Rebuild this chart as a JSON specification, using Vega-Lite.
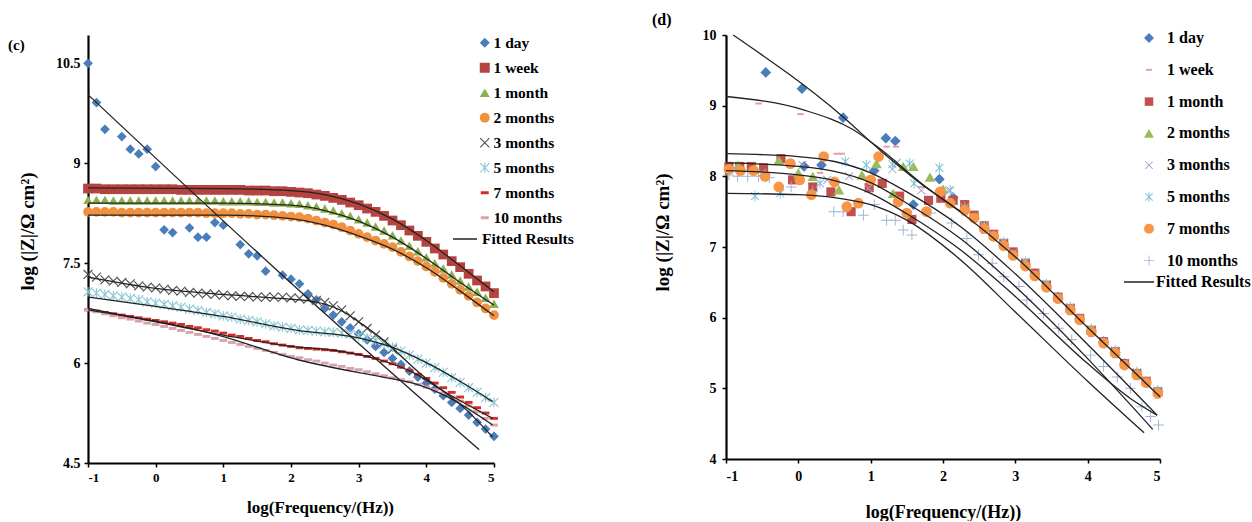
{
"$schema": "https://vega.github.io/schema/vega-lite/v6.json",
"background": "white",
"padding": {"left": 8, "top": 12, "right": 0, "bottom": 0},
"autosize": {"type": "pad"},
"bounds": "flush",
"spacing": 232,
"config": {
 "view": {"stroke": null},
 "font": "Liberation Serif",
 "axis": {"grid": false, "domainColor": "#000", "domainWidth": 2.2, "tickColor": "#000", "tickWidth": 1.5, "tickSize": 4, "labelFont": "Liberation Serif", "labelFontWeight": "bold", "labelFontSize": 13, "labelColor": "#000", "titleFont": "Liberation Serif", "titleFontWeight": "bold", "titleFontSize": 16, "titleColor": "#000", "labelPadding": 4},
 "legend": {"labelFont": "Liberation Serif", "labelFontWeight": "bold", "labelColor": "#000", "labelLimit": 300, "padding": 0}
},
"resolve": {"scale": {"x": "independent", "y": "independent", "color": "independent", "shape": "independent", "stroke": "independent"}, "legend": {"color": "independent", "shape": "independent", "stroke": "independent"}, "axis": {"x": "independent", "y": "independent"}},
"datasets": {
"cp": [
{"s":"1 day","x":-1,"y":10.5},{"s":"1 day","x":-0.875,"y":9.91},{"s":"1 day","x":-0.75,"y":9.51},{"s":"1 day","x":-0.5,"y":9.4},{"s":"1 day","x":-0.375,"y":9.21},{"s":"1 day","x":-0.25,"y":9.14},{"s":"1 day","x":-0.125,"y":9.21},{"s":"1 day","x":0,"y":8.95},{"s":"1 day","x":0.125,"y":8.0},{"s":"1 day","x":0.25,"y":7.96},{"s":"1 day","x":0.5,"y":8.03},{"s":"1 day","x":0.625,"y":7.89},{"s":"1 day","x":0.75,"y":7.89},{"s":"1 day","x":0.875,"y":8.11},{"s":"1 day","x":1,"y":8.07},{"s":"1 day","x":1.25,"y":7.78},{"s":"1 day","x":1.375,"y":7.64},{"s":"1 day","x":1.5,"y":7.61},{"s":"1 day","x":1.625,"y":7.38},{"s":"1 day","x":1.875,"y":7.32},{"s":"1 day","x":2,"y":7.26},{"s":"1 day","x":2.125,"y":7.19},{"s":"1 day","x":2.25,"y":7.04},{"s":"1 day","x":2.375,"y":6.95},{"s":"1 day","x":2.5,"y":6.82},{"s":"1 day","x":2.625,"y":6.72},{"s":"1 day","x":2.75,"y":6.62},{"s":"1 day","x":2.875,"y":6.53},{"s":"1 day","x":3,"y":6.44},{"s":"1 day","x":3.125,"y":6.35},{"s":"1 day","x":3.25,"y":6.25},{"s":"1 day","x":3.375,"y":6.16},{"s":"1 day","x":3.5,"y":6.07},{"s":"1 day","x":3.625,"y":5.98},{"s":"1 day","x":3.75,"y":5.88},{"s":"1 day","x":3.875,"y":5.79},{"s":"1 day","x":4,"y":5.7},{"s":"1 day","x":4.125,"y":5.61},{"s":"1 day","x":4.25,"y":5.51},{"s":"1 day","x":4.375,"y":5.41},{"s":"1 day","x":4.5,"y":5.32},{"s":"1 day","x":4.625,"y":5.22},{"s":"1 day","x":4.75,"y":5.11},{"s":"1 day","x":4.875,"y":5.01},{"s":"1 day","x":5,"y":4.9},
{"s":"1 week","x":-1,"y":8.62},{"s":"1 week","x":-0.875,"y":8.62},{"s":"1 week","x":-0.75,"y":8.61},{"s":"1 week","x":-0.625,"y":8.61},{"s":"1 week","x":-0.5,"y":8.61},{"s":"1 week","x":-0.375,"y":8.61},{"s":"1 week","x":-0.25,"y":8.61},{"s":"1 week","x":-0.125,"y":8.61},{"s":"1 week","x":0,"y":8.61},{"s":"1 week","x":0.125,"y":8.61},{"s":"1 week","x":0.25,"y":8.61},{"s":"1 week","x":0.375,"y":8.6},{"s":"1 week","x":0.5,"y":8.6},{"s":"1 week","x":0.625,"y":8.6},{"s":"1 week","x":0.75,"y":8.6},{"s":"1 week","x":0.875,"y":8.6},{"s":"1 week","x":1,"y":8.6},{"s":"1 week","x":1.125,"y":8.6},{"s":"1 week","x":1.25,"y":8.6},{"s":"1 week","x":1.375,"y":8.59},{"s":"1 week","x":1.5,"y":8.59},{"s":"1 week","x":1.625,"y":8.59},{"s":"1 week","x":1.75,"y":8.58},{"s":"1 week","x":1.875,"y":8.58},{"s":"1 week","x":2,"y":8.57},{"s":"1 week","x":2.125,"y":8.56},{"s":"1 week","x":2.25,"y":8.55},{"s":"1 week","x":2.375,"y":8.53},{"s":"1 week","x":2.5,"y":8.51},{"s":"1 week","x":2.625,"y":8.48},{"s":"1 week","x":2.75,"y":8.45},{"s":"1 week","x":2.875,"y":8.41},{"s":"1 week","x":3,"y":8.37},{"s":"1 week","x":3.125,"y":8.32},{"s":"1 week","x":3.25,"y":8.27},{"s":"1 week","x":3.375,"y":8.21},{"s":"1 week","x":3.5,"y":8.14},{"s":"1 week","x":3.625,"y":8.07},{"s":"1 week","x":3.75,"y":7.99},{"s":"1 week","x":3.875,"y":7.91},{"s":"1 week","x":4,"y":7.82},{"s":"1 week","x":4.125,"y":7.72},{"s":"1 week","x":4.25,"y":7.63},{"s":"1 week","x":4.375,"y":7.53},{"s":"1 week","x":4.5,"y":7.44},{"s":"1 week","x":4.625,"y":7.34},{"s":"1 week","x":4.75,"y":7.24},{"s":"1 week","x":4.875,"y":7.15},{"s":"1 week","x":5,"y":7.05},
{"s":"1 month","x":-1,"y":8.45},{"s":"1 month","x":-0.875,"y":8.45},{"s":"1 month","x":-0.75,"y":8.45},{"s":"1 month","x":-0.625,"y":8.44},{"s":"1 month","x":-0.5,"y":8.44},{"s":"1 month","x":-0.375,"y":8.44},{"s":"1 month","x":-0.25,"y":8.44},{"s":"1 month","x":-0.125,"y":8.44},{"s":"1 month","x":0,"y":8.44},{"s":"1 month","x":0.125,"y":8.44},{"s":"1 month","x":0.25,"y":8.44},{"s":"1 month","x":0.375,"y":8.44},{"s":"1 month","x":0.5,"y":8.44},{"s":"1 month","x":0.625,"y":8.44},{"s":"1 month","x":0.75,"y":8.44},{"s":"1 month","x":0.875,"y":8.44},{"s":"1 month","x":1,"y":8.43},{"s":"1 month","x":1.125,"y":8.43},{"s":"1 month","x":1.25,"y":8.43},{"s":"1 month","x":1.375,"y":8.43},{"s":"1 month","x":1.5,"y":8.42},{"s":"1 month","x":1.625,"y":8.42},{"s":"1 month","x":1.75,"y":8.41},{"s":"1 month","x":1.875,"y":8.41},{"s":"1 month","x":2,"y":8.4},{"s":"1 month","x":2.125,"y":8.39},{"s":"1 month","x":2.25,"y":8.37},{"s":"1 month","x":2.375,"y":8.35},{"s":"1 month","x":2.5,"y":8.32},{"s":"1 month","x":2.625,"y":8.29},{"s":"1 month","x":2.75,"y":8.25},{"s":"1 month","x":2.875,"y":8.21},{"s":"1 month","x":3,"y":8.16},{"s":"1 month","x":3.125,"y":8.11},{"s":"1 month","x":3.25,"y":8.05},{"s":"1 month","x":3.375,"y":7.99},{"s":"1 month","x":3.5,"y":7.92},{"s":"1 month","x":3.625,"y":7.84},{"s":"1 month","x":3.75,"y":7.76},{"s":"1 month","x":3.875,"y":7.68},{"s":"1 month","x":4,"y":7.59},{"s":"1 month","x":4.125,"y":7.5},{"s":"1 month","x":4.25,"y":7.42},{"s":"1 month","x":4.375,"y":7.33},{"s":"1 month","x":4.5,"y":7.24},{"s":"1 month","x":4.625,"y":7.15},{"s":"1 month","x":4.75,"y":7.07},{"s":"1 month","x":4.875,"y":6.98},{"s":"1 month","x":5,"y":6.89},
{"s":"2 months","x":-1,"y":8.27},{"s":"2 months","x":-0.875,"y":8.27},{"s":"2 months","x":-0.75,"y":8.27},{"s":"2 months","x":-0.625,"y":8.27},{"s":"2 months","x":-0.5,"y":8.26},{"s":"2 months","x":-0.375,"y":8.26},{"s":"2 months","x":-0.25,"y":8.26},{"s":"2 months","x":-0.125,"y":8.26},{"s":"2 months","x":0,"y":8.26},{"s":"2 months","x":0.125,"y":8.26},{"s":"2 months","x":0.25,"y":8.26},{"s":"2 months","x":0.375,"y":8.26},{"s":"2 months","x":0.5,"y":8.26},{"s":"2 months","x":0.625,"y":8.26},{"s":"2 months","x":0.75,"y":8.25},{"s":"2 months","x":0.875,"y":8.25},{"s":"2 months","x":1,"y":8.25},{"s":"2 months","x":1.125,"y":8.25},{"s":"2 months","x":1.25,"y":8.24},{"s":"2 months","x":1.375,"y":8.24},{"s":"2 months","x":1.5,"y":8.23},{"s":"2 months","x":1.625,"y":8.23},{"s":"2 months","x":1.75,"y":8.22},{"s":"2 months","x":1.875,"y":8.21},{"s":"2 months","x":2,"y":8.2},{"s":"2 months","x":2.125,"y":8.19},{"s":"2 months","x":2.25,"y":8.17},{"s":"2 months","x":2.375,"y":8.14},{"s":"2 months","x":2.5,"y":8.11},{"s":"2 months","x":2.625,"y":8.08},{"s":"2 months","x":2.75,"y":8.04},{"s":"2 months","x":2.875,"y":7.99},{"s":"2 months","x":3,"y":7.94},{"s":"2 months","x":3.125,"y":7.89},{"s":"2 months","x":3.25,"y":7.84},{"s":"2 months","x":3.375,"y":7.79},{"s":"2 months","x":3.5,"y":7.74},{"s":"2 months","x":3.625,"y":7.67},{"s":"2 months","x":3.75,"y":7.6},{"s":"2 months","x":3.875,"y":7.53},{"s":"2 months","x":4,"y":7.45},{"s":"2 months","x":4.125,"y":7.37},{"s":"2 months","x":4.25,"y":7.28},{"s":"2 months","x":4.375,"y":7.19},{"s":"2 months","x":4.5,"y":7.1},{"s":"2 months","x":4.625,"y":7.01},{"s":"2 months","x":4.75,"y":6.91},{"s":"2 months","x":4.875,"y":6.82},{"s":"2 months","x":5,"y":6.72},
{"s":"3 months","x":-1,"y":7.33},{"s":"3 months","x":-0.875,"y":7.29},{"s":"3 months","x":-0.75,"y":7.25},{"s":"3 months","x":-0.625,"y":7.23},{"s":"3 months","x":-0.5,"y":7.21},{"s":"3 months","x":-0.375,"y":7.19},{"s":"3 months","x":-0.25,"y":7.16},{"s":"3 months","x":-0.125,"y":7.14},{"s":"3 months","x":0,"y":7.13},{"s":"3 months","x":0.125,"y":7.11},{"s":"3 months","x":0.25,"y":7.09},{"s":"3 months","x":0.375,"y":7.08},{"s":"3 months","x":0.5,"y":7.06},{"s":"3 months","x":0.625,"y":7.05},{"s":"3 months","x":0.75,"y":7.04},{"s":"3 months","x":0.875,"y":7.03},{"s":"3 months","x":1,"y":7.02},{"s":"3 months","x":1.125,"y":7.01},{"s":"3 months","x":1.25,"y":7.0},{"s":"3 months","x":1.375,"y":7.0},{"s":"3 months","x":1.5,"y":6.99},{"s":"3 months","x":1.625,"y":6.99},{"s":"3 months","x":1.75,"y":6.99},{"s":"3 months","x":1.875,"y":6.99},{"s":"3 months","x":2,"y":6.98},{"s":"3 months","x":2.125,"y":6.97},{"s":"3 months","x":2.25,"y":6.96},{"s":"3 months","x":2.375,"y":6.94},{"s":"3 months","x":2.5,"y":6.91},{"s":"3 months","x":2.625,"y":6.86},{"s":"3 months","x":2.75,"y":6.8},{"s":"3 months","x":2.875,"y":6.71},{"s":"3 months","x":3,"y":6.62},{"s":"3 months","x":3.125,"y":6.52},{"s":"3 months","x":3.25,"y":6.42},{"s":"3 months","x":3.375,"y":6.32},{"s":"3 months","x":3.5,"y":6.21},
{"s":"5 months","x":-1,"y":7.07},{"s":"5 months","x":-0.875,"y":7.05},{"s":"5 months","x":-0.75,"y":7.03},{"s":"5 months","x":-0.625,"y":7.01},{"s":"5 months","x":-0.5,"y":6.99},{"s":"5 months","x":-0.375,"y":6.97},{"s":"5 months","x":-0.25,"y":6.95},{"s":"5 months","x":-0.125,"y":6.92},{"s":"5 months","x":0,"y":6.9},{"s":"5 months","x":0.125,"y":6.88},{"s":"5 months","x":0.25,"y":6.86},{"s":"5 months","x":0.375,"y":6.84},{"s":"5 months","x":0.5,"y":6.81},{"s":"5 months","x":0.625,"y":6.79},{"s":"5 months","x":0.75,"y":6.76},{"s":"5 months","x":0.875,"y":6.74},{"s":"5 months","x":1,"y":6.71},{"s":"5 months","x":1.125,"y":6.69},{"s":"5 months","x":1.25,"y":6.66},{"s":"5 months","x":1.375,"y":6.64},{"s":"5 months","x":1.5,"y":6.62},{"s":"5 months","x":1.625,"y":6.59},{"s":"5 months","x":1.75,"y":6.56},{"s":"5 months","x":1.875,"y":6.54},{"s":"5 months","x":2,"y":6.52},{"s":"5 months","x":2.125,"y":6.5},{"s":"5 months","x":2.25,"y":6.49},{"s":"5 months","x":2.375,"y":6.48},{"s":"5 months","x":2.5,"y":6.47},{"s":"5 months","x":2.625,"y":6.46},{"s":"5 months","x":2.75,"y":6.45},{"s":"5 months","x":2.875,"y":6.43},{"s":"5 months","x":3,"y":6.41},{"s":"5 months","x":3.125,"y":6.38},{"s":"5 months","x":3.25,"y":6.34},{"s":"5 months","x":3.375,"y":6.29},{"s":"5 months","x":3.5,"y":6.24},{"s":"5 months","x":3.625,"y":6.18},{"s":"5 months","x":3.75,"y":6.12},{"s":"5 months","x":3.875,"y":6.06},{"s":"5 months","x":4,"y":6.0},{"s":"5 months","x":4.125,"y":5.93},{"s":"5 months","x":4.25,"y":5.86},{"s":"5 months","x":4.375,"y":5.78},{"s":"5 months","x":4.5,"y":5.71},{"s":"5 months","x":4.625,"y":5.63},{"s":"5 months","x":4.75,"y":5.56},{"s":"5 months","x":4.875,"y":5.48},{"s":"5 months","x":5,"y":5.41},
{"s":"7 months","x":-1,"y":6.8},{"s":"7 months","x":-0.875,"y":6.78},{"s":"7 months","x":-0.75,"y":6.76},{"s":"7 months","x":-0.625,"y":6.74},{"s":"7 months","x":-0.5,"y":6.72},{"s":"7 months","x":-0.375,"y":6.7},{"s":"7 months","x":-0.25,"y":6.68},{"s":"7 months","x":-0.125,"y":6.66},{"s":"7 months","x":0,"y":6.64},{"s":"7 months","x":0.125,"y":6.62},{"s":"7 months","x":0.25,"y":6.6},{"s":"7 months","x":0.375,"y":6.58},{"s":"7 months","x":0.5,"y":6.55},{"s":"7 months","x":0.625,"y":6.53},{"s":"7 months","x":0.75,"y":6.5},{"s":"7 months","x":0.875,"y":6.48},{"s":"7 months","x":1,"y":6.45},{"s":"7 months","x":1.125,"y":6.42},{"s":"7 months","x":1.25,"y":6.4},{"s":"7 months","x":1.375,"y":6.37},{"s":"7 months","x":1.5,"y":6.34},{"s":"7 months","x":1.625,"y":6.32},{"s":"7 months","x":1.75,"y":6.29},{"s":"7 months","x":1.875,"y":6.27},{"s":"7 months","x":2,"y":6.25},{"s":"7 months","x":2.125,"y":6.23},{"s":"7 months","x":2.25,"y":6.22},{"s":"7 months","x":2.375,"y":6.21},{"s":"7 months","x":2.5,"y":6.2},{"s":"7 months","x":2.625,"y":6.19},{"s":"7 months","x":2.75,"y":6.17},{"s":"7 months","x":2.875,"y":6.15},{"s":"7 months","x":3,"y":6.13},{"s":"7 months","x":3.125,"y":6.1},{"s":"7 months","x":3.25,"y":6.07},{"s":"7 months","x":3.375,"y":6.03},{"s":"7 months","x":3.5,"y":5.99},{"s":"7 months","x":3.625,"y":5.94},{"s":"7 months","x":3.75,"y":5.89},{"s":"7 months","x":3.875,"y":5.83},{"s":"7 months","x":4,"y":5.77},{"s":"7 months","x":4.125,"y":5.7},{"s":"7 months","x":4.25,"y":5.63},{"s":"7 months","x":4.375,"y":5.56},{"s":"7 months","x":4.5,"y":5.49},{"s":"7 months","x":4.625,"y":5.41},{"s":"7 months","x":4.75,"y":5.33},{"s":"7 months","x":4.875,"y":5.25},{"s":"7 months","x":5,"y":5.17},
{"s":"10 months","x":-1,"y":6.8},{"s":"10 months","x":-0.875,"y":6.77},{"s":"10 months","x":-0.75,"y":6.74},{"s":"10 months","x":-0.625,"y":6.71},{"s":"10 months","x":-0.5,"y":6.68},{"s":"10 months","x":-0.375,"y":6.66},{"s":"10 months","x":-0.25,"y":6.63},{"s":"10 months","x":-0.125,"y":6.6},{"s":"10 months","x":0,"y":6.58},{"s":"10 months","x":0.125,"y":6.55},{"s":"10 months","x":0.25,"y":6.52},{"s":"10 months","x":0.375,"y":6.49},{"s":"10 months","x":0.5,"y":6.46},{"s":"10 months","x":0.625,"y":6.43},{"s":"10 months","x":0.75,"y":6.4},{"s":"10 months","x":0.875,"y":6.37},{"s":"10 months","x":1,"y":6.34},{"s":"10 months","x":1.125,"y":6.31},{"s":"10 months","x":1.25,"y":6.28},{"s":"10 months","x":1.375,"y":6.25},{"s":"10 months","x":1.5,"y":6.22},{"s":"10 months","x":1.625,"y":6.19},{"s":"10 months","x":1.75,"y":6.16},{"s":"10 months","x":1.875,"y":6.13},{"s":"10 months","x":2,"y":6.1},{"s":"10 months","x":2.125,"y":6.08},{"s":"10 months","x":2.25,"y":6.05},{"s":"10 months","x":2.375,"y":6.03},{"s":"10 months","x":2.5,"y":6.0},{"s":"10 months","x":2.625,"y":5.97},{"s":"10 months","x":2.75,"y":5.95},{"s":"10 months","x":2.875,"y":5.92},{"s":"10 months","x":3,"y":5.9},{"s":"10 months","x":3.125,"y":5.87},{"s":"10 months","x":3.25,"y":5.84},{"s":"10 months","x":3.375,"y":5.81},{"s":"10 months","x":3.5,"y":5.78},{"s":"10 months","x":3.625,"y":5.75},{"s":"10 months","x":3.75,"y":5.72},{"s":"10 months","x":3.875,"y":5.68},{"s":"10 months","x":4,"y":5.64},{"s":"10 months","x":4.125,"y":5.6},{"s":"10 months","x":4.25,"y":5.55},{"s":"10 months","x":4.375,"y":5.49},{"s":"10 months","x":4.5,"y":5.43},{"s":"10 months","x":4.625,"y":5.36},{"s":"10 months","x":4.75,"y":5.27},{"s":"10 months","x":4.875,"y":5.17},{"s":"10 months","x":5,"y":5.07}
],
"cf": [
{"s":"a","x":-1,"y":10.03},{"s":"a","x":1.84,"y":7.35},{"s":"a","x":4.78,"y":4.7},
{"s":"b","x":-1,"y":8.63},{"s":"b","x":1,"y":8.62},{"s":"b","x":2,"y":8.59},{"s":"b","x":2.5,"y":8.53},{"s":"b","x":3,"y":8.39},{"s":"b","x":3.5,"y":8.16},{"s":"b","x":4,"y":7.84},{"s":"b","x":4.5,"y":7.46},{"s":"b","x":5,"y":7.07},
{"s":"c","x":-1,"y":8.4},{"s":"c","x":1,"y":8.4},{"s":"c","x":2,"y":8.37},{"s":"c","x":2.5,"y":8.29},{"s":"c","x":3,"y":8.13},{"s":"c","x":3.5,"y":7.89},{"s":"c","x":4,"y":7.57},{"s":"c","x":4.5,"y":7.21},{"s":"c","x":5,"y":6.87},
{"s":"d","x":-1,"y":8.22},{"s":"d","x":1,"y":8.22},{"s":"d","x":2,"y":8.17},{"s":"d","x":2.5,"y":8.07},{"s":"d","x":3,"y":7.91},{"s":"d","x":3.5,"y":7.71},{"s":"d","x":4,"y":7.43},{"s":"d","x":4.5,"y":7.08},{"s":"d","x":5,"y":6.71},
{"s":"e","x":-1,"y":7.29},{"s":"e","x":0,"y":7.12},{"s":"e","x":1,"y":7.03},{"s":"e","x":1.84,"y":6.97},{"s":"e","x":2.3,"y":6.93},{"s":"e","x":2.72,"y":6.8},{"s":"e","x":3,"y":6.62},{"s":"e","x":3.31,"y":6.39},{"s":"e","x":3.9,"y":5.85},{"s":"e","x":4.6,"y":5.29},{"s":"e","x":4.98,"y":4.89},
{"s":"f","x":-1,"y":6.99},{"s":"f","x":0,"y":6.85},{"s":"f","x":1,"y":6.7},{"s":"f","x":2.1,"y":6.49},{"s":"f","x":3,"y":6.38},{"s":"f","x":3.46,"y":6.25},{"s":"f","x":4.05,"y":5.98},{"s":"f","x":4.54,"y":5.7},{"s":"f","x":4.98,"y":5.42},
{"s":"g","x":-1,"y":6.82},{"s":"g","x":0,"y":6.62},{"s":"g","x":1,"y":6.42},{"s":"g","x":2.1,"y":6.24},{"s":"g","x":2.57,"y":6.2},{"s":"g","x":3.31,"y":6.05},{"s":"g","x":3.8,"y":5.86},{"s":"g","x":4.3,"y":5.55},{"s":"g","x":4.98,"y":5.17},
{"s":"h","x":-1,"y":6.8},{"s":"h","x":0.92,"y":6.42},{"s":"h","x":2.1,"y":6.05},{"s":"h","x":3.46,"y":5.77},{"s":"h","x":3.8,"y":5.7},{"s":"h","x":4.3,"y":5.5},{"s":"h","x":4.98,"y":5.07}
],
"dp": [
{"s":"1 day","x":-0.45,"y":9.47},{"s":"1 day","x":0.05,"y":9.24},{"s":"1 day","x":0.08,"y":8.14},{"s":"1 day","x":0.32,"y":8.16},{"s":"1 day","x":0.62,"y":8.83},{"s":"1 day","x":1.05,"y":8.08},{"s":"1 day","x":1.21,"y":8.54},{"s":"1 day","x":1.34,"y":8.5},{"s":"1 day","x":1.59,"y":7.6},{"s":"1 day","x":1.95,"y":7.96},{"s":"1 day","x":2.14,"y":7.7},{"s":"1 day","x":2.3,"y":7.53},{"s":"1 day","x":2.43,"y":7.42},{"s":"1 day","x":2.57,"y":7.28},{"s":"1 day","x":2.7,"y":7.16},{"s":"1 day","x":2.84,"y":7.04},{"s":"1 day","x":2.97,"y":6.92},{"s":"1 day","x":3.14,"y":6.76},{"s":"1 day","x":3.27,"y":6.62},{"s":"1 day","x":3.43,"y":6.45},{"s":"1 day","x":3.59,"y":6.29},{"s":"1 day","x":3.76,"y":6.12},{"s":"1 day","x":3.89,"y":5.98},{"s":"1 day","x":4.05,"y":5.82},{"s":"1 day","x":4.22,"y":5.66},{"s":"1 day","x":4.38,"y":5.51},{"s":"1 day","x":4.51,"y":5.35},{"s":"1 day","x":4.68,"y":5.21},{"s":"1 day","x":4.81,"y":5.09},{"s":"1 day","x":4.97,"y":4.95},
{"s":"1 week","x":-0.55,"y":9.03},{"s":"1 week","x":-0.9,"y":8.12},{"s":"1 week","x":0.03,"y":8.88},{"s":"1 week","x":0.3,"y":8.05},{"s":"1 week","x":0.53,"y":8.32},{"s":"1 week","x":0.6,"y":8.32},{"s":"1 week","x":1.22,"y":8.42},{"s":"1 week","x":1.35,"y":8.42},{"s":"1 week","x":1.7,"y":7.85},{"s":"1 week","x":2.0,"y":7.78},{"s":"1 week","x":2.3,"y":7.46},{"s":"1 week","x":2.57,"y":7.2},{"s":"1 week","x":2.84,"y":6.97},{"s":"1 week","x":3.14,"y":6.69},{"s":"1 week","x":3.43,"y":6.38},{"s":"1 week","x":3.76,"y":6.05},{"s":"1 week","x":4.05,"y":5.74},{"s":"1 week","x":4.38,"y":5.44},{"s":"1 week","x":4.68,"y":5.13},{"s":"1 week","x":4.97,"y":4.87},
{"s":"1 month","x":-0.96,"y":8.14},{"s":"1 month","x":-0.81,"y":8.14},{"s":"1 month","x":-0.65,"y":8.14},{"s":"1 month","x":-0.48,"y":8.12},{"s":"1 month","x":-0.24,"y":8.25},{"s":"1 month","x":-0.08,"y":7.95},{"s":"1 month","x":0.2,"y":7.85},{"s":"1 month","x":0.45,"y":7.78},{"s":"1 month","x":0.73,"y":7.5},{"s":"1 month","x":0.98,"y":7.84},{"s":"1 month","x":1.16,"y":7.9},{"s":"1 month","x":1.4,"y":7.72},{"s":"1 month","x":1.57,"y":7.39},{"s":"1 month","x":1.8,"y":7.66},{"s":"1 month","x":1.97,"y":7.69},{"s":"1 month","x":2.14,"y":7.66},{"s":"1 month","x":2.3,"y":7.6},{"s":"1 month","x":2.43,"y":7.45},{"s":"1 month","x":2.57,"y":7.3},{"s":"1 month","x":2.7,"y":7.18},{"s":"1 month","x":2.84,"y":7.05},{"s":"1 month","x":2.97,"y":6.93},{"s":"1 month","x":3.14,"y":6.77},{"s":"1 month","x":3.27,"y":6.63},{"s":"1 month","x":3.43,"y":6.46},{"s":"1 month","x":3.59,"y":6.29},{"s":"1 month","x":3.76,"y":6.13},{"s":"1 month","x":3.89,"y":5.99},{"s":"1 month","x":4.05,"y":5.82},{"s":"1 month","x":4.22,"y":5.66},{"s":"1 month","x":4.38,"y":5.52},{"s":"1 month","x":4.51,"y":5.35},{"s":"1 month","x":4.68,"y":5.21},{"s":"1 month","x":4.81,"y":5.1},{"s":"1 month","x":4.97,"y":4.95},
{"s":"2 months","x":-0.96,"y":8.12},{"s":"2 months","x":-0.83,"y":8.16},{"s":"2 months","x":-0.6,"y":8.12},{"s":"2 months","x":-0.27,"y":8.23},{"s":"2 months","x":0,"y":8.05},{"s":"2 months","x":0.2,"y":8.0},{"s":"2 months","x":0.56,"y":7.81},{"s":"2 months","x":0.88,"y":8.02},{"s":"2 months","x":1.08,"y":8.18},{"s":"2 months","x":1.31,"y":7.76},{"s":"2 months","x":1.45,"y":8.14},{"s":"2 months","x":1.59,"y":8.14},{"s":"2 months","x":1.82,"y":7.99},{"s":"2 months","x":2.0,"y":7.82},{"s":"2 months","x":2.3,"y":7.55},{"s":"2 months","x":2.57,"y":7.29},{"s":"2 months","x":2.84,"y":7.06},{"s":"2 months","x":3.14,"y":6.78},{"s":"2 months","x":3.43,"y":6.47},{"s":"2 months","x":3.76,"y":6.14},{"s":"2 months","x":4.05,"y":5.83},{"s":"2 months","x":4.38,"y":5.53},{"s":"2 months","x":4.68,"y":5.22},{"s":"2 months","x":4.97,"y":4.96},
{"s":"3 months","x":-0.9,"y":8.1},{"s":"3 months","x":-0.5,"y":8.05},{"s":"3 months","x":0.06,"y":8.16},{"s":"3 months","x":0.4,"y":7.95},{"s":"3 months","x":0.7,"y":8.0},{"s":"3 months","x":0.97,"y":7.83},{"s":"3 months","x":1.3,"y":8.1},{"s":"3 months","x":1.36,"y":8.19},{"s":"3 months","x":1.7,"y":7.8},{"s":"3 months","x":2.08,"y":7.8},{"s":"3 months","x":2.43,"y":7.43},{"s":"3 months","x":2.7,"y":7.17},{"s":"3 months","x":2.97,"y":6.92},{"s":"3 months","x":3.27,"y":6.62},{"s":"3 months","x":3.59,"y":6.3},{"s":"3 months","x":3.89,"y":6.0},{"s":"3 months","x":4.22,"y":5.67},{"s":"3 months","x":4.51,"y":5.36},{"s":"3 months","x":4.81,"y":5.11},
{"s":"5 months","x":-0.6,"y":7.72},{"s":"5 months","x":-0.25,"y":7.76},{"s":"5 months","x":0.3,"y":7.9},{"s":"5 months","x":0.65,"y":8.21},{"s":"5 months","x":0.94,"y":8.16},{"s":"5 months","x":1.3,"y":8.17},{"s":"5 months","x":1.54,"y":8.18},{"s":"5 months","x":1.6,"y":7.9},{"s":"5 months","x":1.95,"y":8.12},{"s":"5 months","x":2.1,"y":7.8},{"s":"5 months","x":2.3,"y":7.56},{"s":"5 months","x":2.57,"y":7.3},{"s":"5 months","x":2.84,"y":7.07},{"s":"5 months","x":3.14,"y":6.79},{"s":"5 months","x":3.43,"y":6.48},{"s":"5 months","x":3.76,"y":6.15},{"s":"5 months","x":4.05,"y":5.84},{"s":"5 months","x":4.38,"y":5.54},{"s":"5 months","x":4.68,"y":5.23},{"s":"5 months","x":4.97,"y":4.97},
{"s":"10 months","x":-0.96,"y":8.02},{"s":"10 months","x":-0.84,"y":8.0},{"s":"10 months","x":-0.7,"y":8.0},{"s":"10 months","x":-0.55,"y":8.0},{"s":"10 months","x":-0.4,"y":7.98},{"s":"10 months","x":-0.1,"y":7.85},{"s":"10 months","x":0.2,"y":7.78},{"s":"10 months","x":0.49,"y":7.5},{"s":"10 months","x":0.62,"y":7.5},{"s":"10 months","x":0.9,"y":7.45},{"s":"10 months","x":1.05,"y":7.6},{"s":"10 months","x":1.22,"y":7.38},{"s":"10 months","x":1.34,"y":7.38},{"s":"10 months","x":1.45,"y":7.24},{"s":"10 months","x":1.57,"y":7.17},{"s":"10 months","x":1.83,"y":7.48},{"s":"10 months","x":2.12,"y":7.34},{"s":"10 months","x":2.33,"y":7.12},{"s":"10 months","x":2.49,"y":6.89},{"s":"10 months","x":2.68,"y":6.77},{"s":"10 months","x":2.84,"y":6.58},{"s":"10 months","x":3.05,"y":6.44},{"s":"10 months","x":3.16,"y":6.25},{"s":"10 months","x":3.39,"y":6.06},{"s":"10 months","x":3.6,"y":5.85},{"s":"10 months","x":3.78,"y":5.69},{"s":"10 months","x":4.04,"y":5.47},{"s":"10 months","x":4.22,"y":5.31},{"s":"10 months","x":4.41,"y":5.16},{"s":"10 months","x":4.59,"y":5.0},{"s":"10 months","x":4.75,"y":4.74},{"s":"10 months","x":4.87,"y":4.6},{"s":"10 months","x":4.98,"y":4.48},
{"s":"7 months","x":-0.96,"y":8.1},{"s":"7 months","x":-0.8,"y":8.08},{"s":"7 months","x":-0.62,"y":8.08},{"s":"7 months","x":-0.46,"y":8.0},{"s":"7 months","x":-0.27,"y":7.85},{"s":"7 months","x":-0.11,"y":8.18},{"s":"7 months","x":0.02,"y":7.95},{"s":"7 months","x":0.18,"y":7.74},{"s":"7 months","x":0.35,"y":8.28},{"s":"7 months","x":0.5,"y":7.92},{"s":"7 months","x":0.67,"y":7.57},{"s":"7 months","x":0.83,"y":7.62},{"s":"7 months","x":1.0,"y":7.95},{"s":"7 months","x":1.11,"y":8.28},{"s":"7 months","x":1.38,"y":7.64},{"s":"7 months","x":1.5,"y":7.48},{"s":"7 months","x":1.77,"y":7.5},{"s":"7 months","x":1.96,"y":7.78},{"s":"7 months","x":2.1,"y":7.62},{"s":"7 months","x":2.3,"y":7.52},{"s":"7 months","x":2.43,"y":7.41},{"s":"7 months","x":2.57,"y":7.26},{"s":"7 months","x":2.7,"y":7.15},{"s":"7 months","x":2.84,"y":7.02},{"s":"7 months","x":2.97,"y":6.88},{"s":"7 months","x":3.14,"y":6.73},{"s":"7 months","x":3.27,"y":6.59},{"s":"7 months","x":3.43,"y":6.43},{"s":"7 months","x":3.59,"y":6.27},{"s":"7 months","x":3.76,"y":6.11},{"s":"7 months","x":3.89,"y":5.97},{"s":"7 months","x":4.05,"y":5.8},{"s":"7 months","x":4.22,"y":5.64},{"s":"7 months","x":4.38,"y":5.5},{"s":"7 months","x":4.51,"y":5.33},{"s":"7 months","x":4.68,"y":5.19},{"s":"7 months","x":4.81,"y":5.08},{"s":"7 months","x":4.97,"y":4.93}
],
"df": [
{"s":"a","x":-0.9,"y":10.0},{"s":"a","x":0.62,"y":8.84},{"s":"a","x":1.13,"y":8.37},{"s":"a","x":1.69,"y":7.9},{"s":"a","x":2.24,"y":7.5},{"s":"a","x":3,"y":6.86},{"s":"a","x":4,"y":5.86},{"s":"a","x":5,"y":4.88},
{"s":"b","x":-1,"y":9.13},{"s":"b","x":0.07,"y":8.94},{"s":"b","x":0.76,"y":8.66},{"s":"b","x":1.13,"y":8.39},{"s":"b","x":1.69,"y":7.91},{"s":"b","x":2.24,"y":7.5},
{"s":"c","x":-1,"y":8.32},{"s":"c","x":0,"y":8.28},{"s":"c","x":0.5,"y":8.21},{"s":"c","x":1,"y":8.05},{"s":"c","x":1.5,"y":7.78},{"s":"c","x":2.24,"y":7.29},{"s":"c","x":3,"y":6.62},{"s":"c","x":4,"y":5.62},{"s":"c","x":4.96,"y":4.62},
{"s":"d","x":-1,"y":8.19},{"s":"d","x":0,"y":8.14},{"s":"d","x":0.5,"y":8.07},{"s":"d","x":1,"y":7.91},{"s":"d","x":1.5,"y":7.62},{"s":"d","x":2.24,"y":7.12},{"s":"d","x":3,"y":6.44},{"s":"d","x":4,"y":5.42},{"s":"d","x":4.9,"y":4.42},
{"s":"e","x":-1,"y":8.08},{"s":"e","x":0,"y":8.02},{"s":"e","x":0.5,"y":7.94},{"s":"e","x":1,"y":7.76},{"s":"e","x":1.5,"y":7.47},{"s":"e","x":2.24,"y":6.96},{"s":"e","x":3,"y":6.3},{"s":"e","x":4,"y":5.35},{"s":"e","x":4.6,"y":4.85},{"s":"e","x":4.96,"y":4.62},
{"s":"f","x":-1,"y":7.76},{"s":"f","x":0,"y":7.74},{"s":"f","x":0.5,"y":7.7},{"s":"f","x":1,"y":7.6},{"s":"f","x":1.5,"y":7.38},{"s":"f","x":2.24,"y":6.82},{"s":"f","x":3,"y":6.08},{"s":"f","x":4,"y":5.1},{"s":"f","x":4.78,"y":4.37}
]
},
"hconcat": [
{
 "width": 406, "height": 428,
 "title": {"text": "(c)", "anchor": "start", "frame": "group", "dx": -80, "offset": -18, "fontSize": 15, "fontWeight": "bold", "font": "Liberation Serif", "color": "#000"},
 "encoding": {
  "x": {"field": "x", "type": "quantitative", "scale": {"domain": [-1, 5], "nice": false, "zero": false}, "axis": {"values": [-1,0,1,2,3,4,5], "title": "log(Frequency/(Hz))", "labelExpr": "replace(datum.label,'−','-')", "titlePadding": 15, "titleX": 232, "titleFontSize": 17}},
  "y": {"field": "y", "type": "quantitative", "scale": {"domain": [4.5, 10.925], "nice": false, "zero": false}, "axis": {"values": [4.5,6,7.5,9,10.5], "format": ".1~f", "title": "log (|Z|/Ω cm²)", "titleY": 196, "titlePadding": 18, "titleFontSize": 19, "labelFontSize": 14}}
 },
 "layer": [
  {"data": {"name": "cp"}, "mark": {"type": "point", "filled": true, "size": 95, "opacity": 1},
   "encoding": {
    "color": {"field": "s", "type": "nominal", "scale": {"domain": ["1 day","1 week","1 month","2 months","3 months","5 months","7 months","10 months"], "range": ["#4a7ebb","#b5433f","#8db04e","#ef913f","#555555","#8ccad8","#d42b2b","#d9a3ac"]},
      "legend": {"title": null, "orient": "none", "legendX": 389, "legendY": 0, "labelFontSize": 15.5, "rowPadding": 8, "labelOffset": 1}},
    "shape": {"field": "s", "type": "nominal", "scale": {"domain": ["1 day","1 week","1 month","2 months","3 months","5 months","7 months","10 months"], "range": ["diamond","square","triangle-up","circle","M-1,-0.83L-0.83,-1L1,0.83L0.83,1ZM1,-0.83L-0.83,1L-1,0.83L0.83,-1Z","M-1,-0.83L-0.83,-1L1,0.83L0.83,1ZM1,-0.83L-0.83,1L-1,0.83L0.83,-1ZM-0.12,-1L0.12,-1L0.12,1L-0.12,1Z","M-0.8,-0.3L0.8,-0.3L0.8,0.3L-0.8,0.3Z","M-0.8,-0.3L0.8,-0.3L0.8,0.3L-0.8,0.3Z"]},
      "legend": {"title": null, "orient": "none", "legendX": 389, "legendY": 0, "labelFontSize": 15.5, "rowPadding": 8, "labelOffset": 1}}
   }},
  {"data": {"name": "cf"}, "mark": {"type": "line", "strokeWidth": 1.3, "interpolate": "monotone"},
   "encoding": {
    "detail": {"field": "s"},
    "stroke": {"datum": "Fitted Results", "type": "nominal", "scale": {"range": ["#222222"]}, "legend": {"title": null, "orient": "none", "legendX": 364, "legendY": 191, "symbolType": "stroke", "symbolSize": 576, "symbolStrokeWidth": 1.5, "labelFontSize": 15.5, "labelOffset": 4}}
   }}
 ]
},
{
 "width": 434, "height": 424,
 "title": {"text": "(d)", "anchor": "start", "frame": "group", "dx": -74, "offset": 0, "fontSize": 16, "fontWeight": "bold", "font": "Liberation Serif", "color": "#000"},
 "encoding": {
  "x": {"field": "x", "type": "quantitative", "scale": {"domain": [-1, 5], "nice": false, "zero": false}, "axis": {"values": [-1,0,1,2,3,4,5], "title": "log(Frequency/(Hz))", "labelExpr": "replace(datum.label,'−','-')", "labelFontSize": 14, "titleFontSize": 18, "titlePadding": 20, "labelPadding": 6}},
  "y": {"field": "y", "type": "quantitative", "scale": {"domain": [4, 10], "nice": false, "zero": false}, "axis": {"values": [4,5,6,7,8,9,10], "title": "log (|Z|/Ω cm²)", "titleY": 197, "labelFontSize": 14, "titleFontSize": 19, "titlePadding": 30, "labelPadding": 6}}
 },
 "layer": [
  {"data": {"name": "dp"}, "mark": {"type": "point", "filled": true, "size": 115, "opacity": 1},
   "encoding": {
    "color": {"field": "s", "type": "nominal", "scale": {"domain": ["1 day","1 week","1 month","2 months","3 months","5 months","7 months","10 months"], "range": ["#4a7ebb","#e39aa6","#c0504d","#9bbb59","#a99bc9","#7fc4d8","#f79646","#9db5d9"]},
      "legend": {"title": null, "orient": "none", "legendX": 415, "legendY": -5, "labelFontSize": 16, "rowPadding": 15.8, "labelOffset": 10}},
    "shape": {"field": "s", "type": "nominal", "scale": {"domain": ["1 day","1 week","1 month","2 months","3 months","5 months","7 months","10 months"], "range": ["diamond","M-0.6,-0.18L0.6,-0.18L0.6,0.18L-0.6,0.18Z","M-0.85,-0.85L0.85,-0.85L0.85,0.85L-0.85,0.85Z","triangle-up","M-0.8,-0.68L-0.68,-0.8L0.8,0.68L0.68,0.8ZM0.8,-0.68L-0.68,0.8L-0.8,0.68L0.68,-0.8Z","M-0.8,-0.66L-0.66,-0.8L0.8,0.66L0.66,0.8ZM0.8,-0.66L-0.66,0.8L-0.8,0.66L0.66,-0.8ZM-0.09,-1L0.09,-1L0.09,1L-0.09,1Z","circle","M-1,-0.09L1,-0.09L1,0.09L-1,0.09ZM-0.09,-1L0.09,-1L0.09,1L-0.09,1Z"]},
      "legend": {"title": null, "orient": "none", "legendX": 415, "legendY": -5, "labelFontSize": 16, "rowPadding": 15.8, "labelOffset": 10}}
   }},
  {"data": {"name": "df"}, "mark": {"type": "line", "strokeWidth": 1.3, "interpolate": "monotone"},
   "encoding": {
    "detail": {"field": "s"},
    "stroke": {"datum": "Fitted Results", "type": "nominal", "scale": {"range": ["#222222"]}, "legend": {"title": null, "orient": "none", "legendX": 397, "legendY": 231, "symbolType": "stroke", "symbolSize": 900, "symbolStrokeWidth": 1.5, "labelFontSize": 16, "labelOffset": 1}}
   }}
 ]
}
]
}
